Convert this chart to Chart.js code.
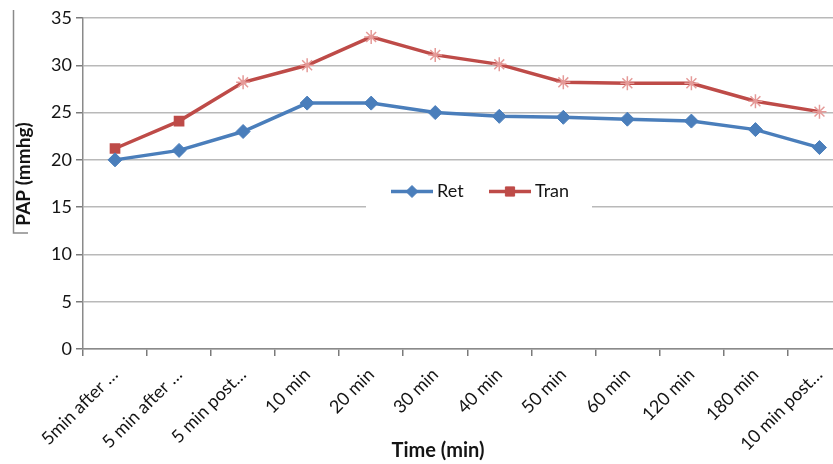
<!DOCTYPE html>
<html>
<head>
<meta charset="utf-8">
<script src="https://cdn.jsdelivr.net/npm/chart.js@4.4.1/dist/chart.umd.min.js"></script>
<style>
  html, body { margin: 0; padding: 0; background: #fff; overflow: hidden; width: 833px; height: 464px; }
  #wrap { position: relative; width: 860px; height: 464px; }
</style>
</head>
<body>
<div id="wrap"><canvas id="c" width="860" height="464"></canvas></div>
<script>
// Time points and pulmonary artery pressure (mmHg) for both groups
const categories = ['5min after …', '5 min after …', '5 min post…', '10 min', '20 min', '30 min',
                    '40 min', '50 min', '60 min', '120 min', '180 min', '10 min post…'];
const retValues  = [20, 21, 23, 26, 26, 25, 24.6, 24.5, 24.3, 24.1, 23.2, 21.3];
const tranValues = [21.2, 24.1, 28.2, 30, 33, 31.1, 30.1, 28.2, 28.1, 28.1, 26.2, 25.1];
const yMin = 0, yMax = 35, yStep = 5;
const seriesNames = ['Ret', 'Tran'];
const xTitle = 'Time (min)';
const yTitle = 'PAP (mmhg)';

const BLUE = '#4A7EBB';
const RED = '#BE4B48';
const RED_LIGHT = '#E59A98';
const FONT = 'Lato, "Open Sans", sans-serif';

// Tran markers: filled squares for the first two points, asterisks afterwards
const tranStyles = tranValues.map((v, i) => i < 2 ? 'rect' : 'star');
const tranFill = tranValues.map((v, i) => i < 2 ? RED : 'rgba(0,0,0,0)');
const tranStroke = tranValues.map((v, i) => i < 2 ? RED : RED_LIGHT);
const tranRadius = tranValues.map((v, i) => i < 2 ? 6.5 : 7);

// Titles and the in-plot legend are drawn at fixed spots around the plot
const overlay = {
  id: 'overlay',
  afterDraw(chart) {
    const ctx = chart.ctx;
    ctx.save();

    // frame line beside the y title
    ctx.strokeStyle = '#8a8a8a';
    ctx.lineWidth = 1.5;
    ctx.beginPath();
    ctx.moveTo(13.5, 10);
    ctx.lineTo(13.5, 233);
    ctx.lineTo(28, 233);
    ctx.stroke();

    // y title
    ctx.fillStyle = '#141414';
    ctx.font = 'bold 19px ' + FONT;
    ctx.textAlign = 'center';
    ctx.textBaseline = 'middle';
    ctx.save();
    ctx.translate(24, 174);
    ctx.rotate(-Math.PI / 2);
    ctx.fillText(yTitle, 0, 0);
    ctx.restore();

    // x title
    ctx.font = 'bold 20px ' + FONT;
    ctx.fillText(xTitle, 438, 451);

    // legend box
    ctx.fillStyle = '#ffffff';
    ctx.fillRect(366, 168, 226, 44);
    const items = [
      { x: 391, ds: chart.data.datasets[0], style: 'rectRot', r: 6 },
      { x: 489, ds: chart.data.datasets[1], style: 'rect', r: 6.5 }
    ];
    const ly = 191.5;
    items.forEach(it => {
      ctx.strokeStyle = it.ds.borderColor;
      ctx.lineWidth = 3.5;
      ctx.beginPath();
      ctx.moveTo(it.x, ly);
      ctx.lineTo(it.x + 42, ly);
      ctx.stroke();
      ctx.fillStyle = it.ds.borderColor;
      ctx.strokeStyle = it.ds.borderColor;
      ctx.lineWidth = 1;
      Chart.helpers.drawPoint(ctx, { pointStyle: it.style, rotation: 0, radius: it.r, borderWidth: 1 }, it.x + 21, ly);
      ctx.fillStyle = '#141414';
      ctx.font = '18px ' + FONT;
      ctx.textAlign = 'left';
      ctx.textBaseline = 'middle';
      ctx.fillText(it.ds.label, it.x + 46, ly);
    });
    ctx.restore();
  }
};

new Chart(document.getElementById('c'), {
  type: 'line',
  data: {
    labels: categories,
    datasets: [
      {
        label: seriesNames[0],
        data: retValues,
        borderColor: BLUE,
        backgroundColor: BLUE,
        borderWidth: 3.5,
        pointStyle: 'rectRot',
        pointRadius: 7,
        pointBackgroundColor: BLUE,
        pointBorderColor: BLUE,
        pointBorderWidth: 1,
        tension: 0
      },
      {
        label: seriesNames[1],
        data: tranValues,
        borderColor: RED,
        backgroundColor: RED,
        borderWidth: 3.5,
        pointStyle: tranStyles,
        pointRadius: tranRadius,
        pointBackgroundColor: tranFill,
        pointBorderColor: tranStroke,
        pointBorderWidth: 1.5,
        tension: 0
      }
    ]
  },
  options: {
    responsive: false,
    animation: false,
    devicePixelRatio: 1,
    layout: { padding: { left: 0, right: 5, top: 18, bottom: 0 } },
    plugins: {
      legend: { display: false },
      tooltip: { enabled: false },
      title: { display: false }
    },
    scales: {
      x: {
        type: 'category',
        offset: true,
        grid: {
          drawOnChartArea: false,
          drawTicks: true,
          tickLength: 7,
          color: '#7a7a7a',
          lineWidth: 1.5,
          offset: true
        },
        border: { color: '#8a8a8a', width: 1.5 },
        ticks: {
          color: '#141414',
          font: { family: FONT, size: 18 },
          minRotation: 45,
          maxRotation: 45,
          autoSkip: false,
          padding: 8
        },
        afterFit(scale) { scale.height = 115; }
      },
      y: {
        min: yMin,
        max: yMax,
        grid: {
          color: '#b9b9b9',
          lineWidth: 1.5,
          tickLength: 7,
          tickColor: '#7a7a7a'
        },
        border: { color: '#8a8a8a', width: 1.5 },
        ticks: {
          stepSize: yStep,
          color: '#141414',
          font: { family: FONT, size: 18 },
          padding: 4
        },
        afterFit(scale) { scale.width = 83; }
      }
    }
  },
  plugins: [overlay]
});
</script>
</body>
</html>
